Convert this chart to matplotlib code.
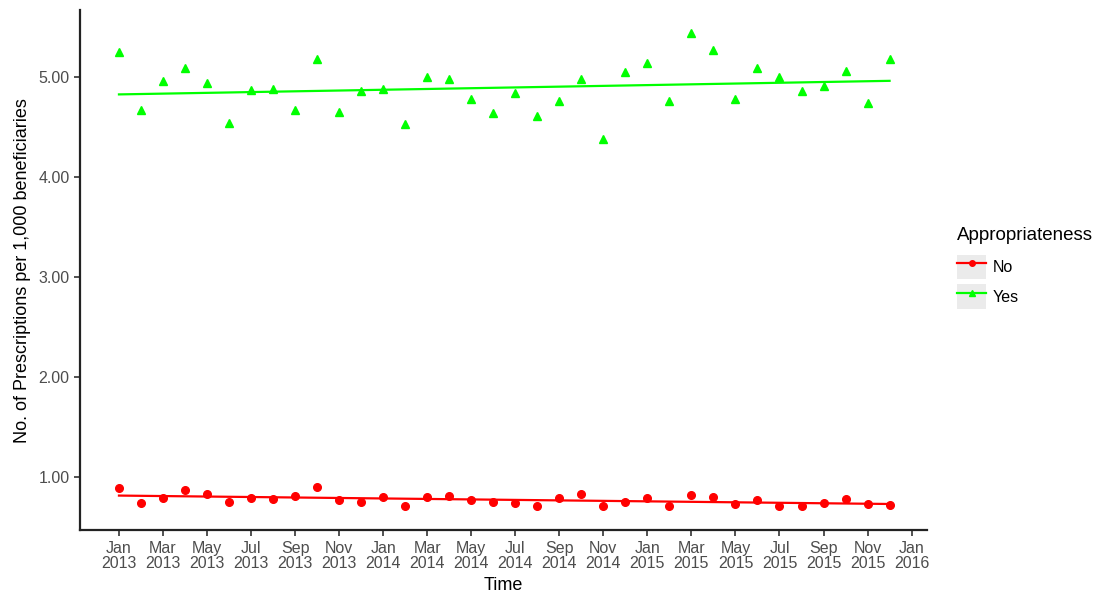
import numpy as np
import matplotlib
matplotlib.use("Agg")
import matplotlib.pyplot as plt
from matplotlib.lines import Line2D
from matplotlib.patches import Patch
from matplotlib.legend_handler import HandlerTuple

plt.rcParams['font.family'] = ['Liberation Sans', 'DejaVu Sans']

# monthly series, Jan 2013 .. Dec 2015
months = np.arange(36)
yes_vals = [5.25, 4.67, 4.96, 5.09, 4.94, 4.54, 4.87, 4.88, 4.67, 5.18, 4.65, 4.86,
            4.88, 4.53, 5.00, 4.98, 4.78, 4.64, 4.84, 4.61, 4.76, 4.98, 4.38, 5.05,
            5.14, 4.76, 5.44, 5.27, 4.78, 5.09, 5.00, 4.86, 4.91, 5.06, 4.74, 5.18]
no_vals = [0.89, 0.74, 0.79, 0.87, 0.83, 0.75, 0.79, 0.78, 0.81, 0.90, 0.77, 0.75,
           0.80, 0.71, 0.80, 0.81, 0.77, 0.75, 0.74, 0.71, 0.79, 0.83, 0.71, 0.75,
           0.79, 0.71, 0.82, 0.80, 0.73, 0.77, 0.71, 0.71, 0.74, 0.78, 0.73, 0.72]

tick_pos = np.arange(0, 37, 2)
month_names = ['Jan', 'Mar', 'May', 'Jul', 'Sep', 'Nov']
tick_labels = [f"{month_names[(m % 12) // 2]}\n{2013 + m // 12}" for m in tick_pos]

RED = '#FF0000'
GREEN = '#00FF00'
TXT = '#4D4D4D'

fig = plt.figure(figsize=(11.11, 5.95), dpi=100)
ax = fig.add_axes([0.072, 0.109, 0.762, 0.874])

for vals, col, mk, ms in [(no_vals, RED, 'o', 5.5), (yes_vals, GREEN, '^', 6.0)]:
    ax.plot(months, vals, linestyle='none', marker=mk, color=col, markersize=ms)
    slope, icpt = np.polyfit(months, vals, 1)
    ax.plot(months, slope * months + icpt, color=col, linewidth=1.6)

ax.set_xlim(-1.77, 36.68)
ax.set_ylim(0.47, 5.67)
ax.set_xticks(tick_pos)
ax.set_xticklabels(tick_labels, fontsize=11.5, color=TXT, linespacing=1.05)
ax.set_yticks([1, 2, 3, 4, 5])
ax.set_yticklabels([f"{v:.2f}" for v in [1, 2, 3, 4, 5]], fontsize=11.5, color=TXT)
ax.tick_params(axis='both', length=4, width=1.2, color='#333333')

for side in ['top', 'right']:
    ax.spines[side].set_visible(False)
for side in ['left', 'bottom']:
    ax.spines[side].set_linewidth(1.6)
    ax.spines[side].set_color('#222222')

ax.set_xlabel('Time', fontsize=13, labelpad=4)
ax.set_ylabel('No. of Prescriptions per 1,000 beneficiaries', fontsize=13, labelpad=5)

key_bg = '#EBEBEB'
handles = [
    (Patch(facecolor=key_bg, edgecolor='none'),
     Line2D([], [], color=RED, marker='o', markersize=4, linewidth=1.6)),
    (Patch(facecolor=key_bg, edgecolor='none'),
     Line2D([], [], color=GREEN, marker='^', markersize=4.5, linewidth=1.6)),
]
leg = fig.legend(handles, ['No', 'Yes'], title='Appropriateness',
                 handler_map={tuple: HandlerTuple(ndivide=1)},
                 loc='upper left', bbox_to_anchor=(0.856, 0.630),
                 frameon=False, fontsize=11.5, title_fontsize=13.5,
                 handlelength=1.8, handleheight=2.0, handletextpad=0.4,
                 labelspacing=0.3, borderaxespad=0)
leg._legend_box.align = 'left'
leg._legend_box.sep = 8

fig.savefig('out.png', dpi=100)
